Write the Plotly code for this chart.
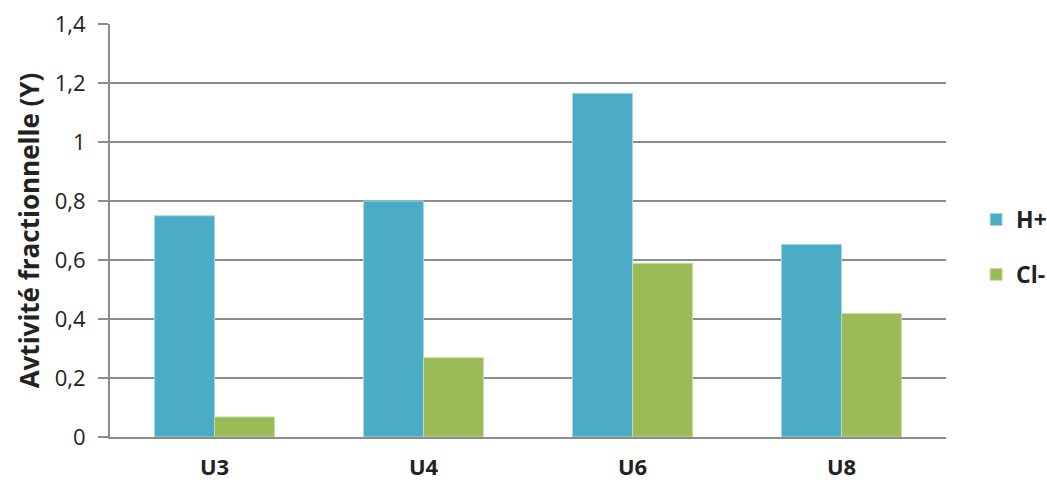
import plotly.graph_objects as go

categories = ["U3", "U4", "U6", "U8"]
h_plus = [0.75, 0.80, 1.165, 0.653]
cl_minus = [0.068, 0.269, 0.589, 0.419]
y_ticks = [0, 0.2, 0.4, 0.6, 0.8, 1.0, 1.2, 1.4]
y_labels = ["0", "0,2", "0,4", "0,6", "0,8", "1", "1,2", "1,4"]

font = "Open Sans, Liberation Sans, sans-serif"
grid = "#8c8c8c"

fig = go.Figure()
fig.add_trace(go.Bar(x=categories, y=h_plus, name="H+", legendgroup="a",
                     marker=dict(color="#4BACC6", line=dict(color="#a8d6e3", width=1))))
fig.add_trace(go.Bar(x=categories, y=cl_minus, name="Cl-", legendgroup="b",
                     marker=dict(color="#9BBB59", line=dict(color="#c9dca6", width=1))))

fig.update_layout(
    width=1047, height=480,
    margin=dict(l=110, r=101, t=24, b=43, autoexpand=False),
    plot_bgcolor="white", paper_bgcolor="white",
    barmode="group", bargap=0.426, bargroupgap=0,
    font=dict(family=font, color="#222222"),
    legend=dict(x=1.036, xanchor="left", y=0.46, yanchor="middle",
                font=dict(size=23, family=font, color="#222222", weight="bold"),
                tracegroupgap=22, traceorder="grouped", itemwidth=30),
    showlegend=True,
)
fig.update_xaxes(
    automargin=False,
    showgrid=False, showline=True, linecolor=grid, linewidth=2,
    tickfont=dict(size=22, weight="bold"), ticks="", ticklabelstandoff=10,
)
fig.update_yaxes(
    automargin=False,
    range=[0, 1.4], tickvals=y_ticks, ticktext=y_labels,
    showgrid=True, gridcolor=grid, gridwidth=2, zeroline=False,
    showline=True, linecolor=grid, linewidth=2,
    ticks="outside", ticklen=10, tickcolor=grid, tickwidth=2,
    tickfont=dict(size=22), ticklabelstandoff=8,
    title=dict(text="Avtivité fractionnelle (Y)", font=dict(size=26, weight="bold"), standoff=8),
)

# drop the default 8px body margin so the figure sits at the window's corner
fig.write_html("out.html", config={"displayModeBar": False},
               post_script="document.body.style.margin='0';")
